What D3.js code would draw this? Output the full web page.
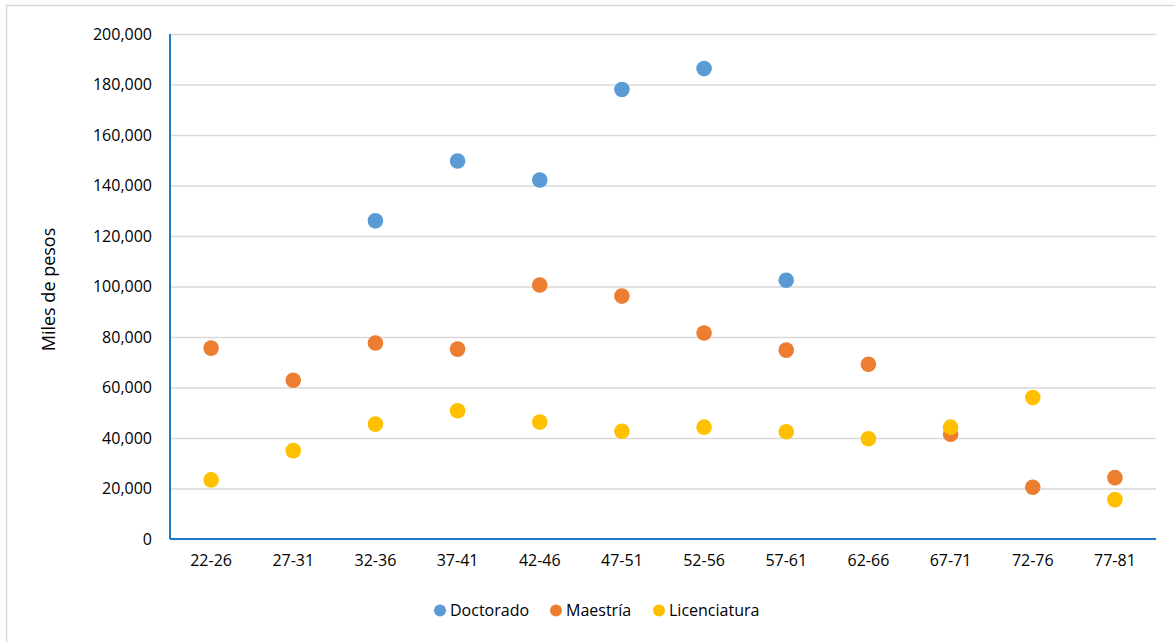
<!DOCTYPE html>
<html>
<head>
<meta charset="utf-8">
<script src="https://cdn.jsdelivr.net/npm/d3@7/dist/d3.min.js"></script>
<style>
  html, body { margin: 0; padding: 0; background: #fff; }
  svg { display: block; font-family: "Open Sans", sans-serif; }
</style>
</head>
<body>
<svg id="chart" width="1175" height="642"></svg>
<script>
// Age groups along the x axis
const categories = ["22-26","27-31","32-36","37-41","42-46","47-51","52-56","57-61","62-66","67-71","72-76","77-81"];

// Income (thousands of pesos) by education level; null where there is no value
const doctorado    = [null, null, 126000, 149700, 142200, 178000, 186300, 102500, null, null, null, null];
const maestria     = [75600, 62900, 77600, 75200, 100600, 96200, 81600, 74800, 69200, 41500, 20500, 24300];
const licenciatura = [23400, 35000, 45500, 50800, 46300, 42700, 44300, 42500, 39700, 44300, 56000, 15600];

const yTicks = [0, 20000, 40000, 60000, 80000, 100000, 120000, 140000, 160000, 180000, 200000];

const seriesNames  = ["Doctorado", "Maestría", "Licenciatura"];
const seriesValues = [doctorado, maestria, licenciatura];
const seriesColors = ["#5B9BD5", "#ED7D31", "#FFC000"];

const svg = d3.select("#chart");
const plot = { left: 170, right: 1156, top: 34, bottom: 539 };
const fontSize = 16;

// Outer frame
svg.append("rect")
  .attr("x", 6.5).attr("y", 5.5)
  .attr("width", 1200).attr("height", 700)
  .attr("fill", "none").attr("stroke", "#D9D9D9").attr("stroke-width", 1.5);

const x = d3.scaleBand().domain(categories).range([plot.left, plot.right]);
const y = d3.scaleLinear().domain([0, 200000]).range([plot.bottom, plot.top]);

// Horizontal gridlines
svg.append("g")
  .attr("transform", `translate(${plot.left},0)`)
  .call(d3.axisLeft(y).tickValues(yTicks).tickSize(-(plot.right - plot.left)).tickFormat(""))
  .call(g => g.select(".domain").remove())
  .call(g => g.selectAll("line").attr("stroke", "#D9D9D9").attr("stroke-width", 1.5));

// Y axis labels
svg.append("g")
  .attr("transform", `translate(${plot.left},0)`)
  .call(d3.axisLeft(y).tickValues(yTicks).tickSize(0).tickPadding(18).tickFormat(d3.format(",")))
  .call(g => g.select(".domain").remove())
  .call(g => g.selectAll("text").attr("font-family", "Open Sans").attr("font-size", fontSize).attr("fill", "#000"));

// X axis labels
svg.append("g")
  .attr("transform", `translate(0,${plot.bottom})`)
  .call(d3.axisBottom(x).tickSize(0).tickPadding(16))
  .call(g => g.select(".domain").remove())
  .call(g => g.selectAll("text").attr("font-family", "Open Sans").attr("font-size", fontSize).attr("fill", "#000"));

// Axis lines
svg.append("line")
  .attr("x1", plot.left).attr("x2", plot.left)
  .attr("y1", y(200000)).attr("y2", y(0))
  .attr("stroke", "#1F7BC8").attr("stroke-width", 2);
svg.append("line")
  .attr("x1", plot.left).attr("x2", plot.right)
  .attr("y1", y(0)).attr("y2", y(0))
  .attr("stroke", "#1F7BC8").attr("stroke-width", 2);

// Y axis title
svg.append("text")
  .attr("transform", `translate(55,${(plot.top + plot.bottom) / 2 + 3}) rotate(-90)`)
  .attr("text-anchor", "middle")
  .attr("font-size", 18).attr("fill", "#000")
  .text("Miles de pesos");

// Points
seriesValues.forEach((vals, i) => {
  svg.append("g").selectAll("circle")
    .data(vals.map((v, j) => ({ cat: categories[j], v })).filter(d => d.v !== null))
    .join("circle")
    .attr("cx", d => x(d.cat) + x.bandwidth() / 2)
    .attr("cy", d => y(d.v))
    .attr("r", 7.8)
    .attr("fill", seriesColors[i]);
});

// Legend
const legendItems = [
  { cx: 440, tx: 450 },
  { cx: 556, tx: 566 },
  { cx: 659, tx: 669 }
];
const legend = svg.append("g");
seriesNames.forEach((name, i) => {
  legend.append("circle")
    .attr("cx", legendItems[i].cx).attr("cy", 610.5).attr("r", 6)
    .attr("fill", seriesColors[i]);
  legend.append("text")
    .attr("x", legendItems[i].tx).attr("y", 616)
    .attr("font-size", fontSize).attr("fill", "#000")
    .text(name);
});
</script>
</body>
</html>
